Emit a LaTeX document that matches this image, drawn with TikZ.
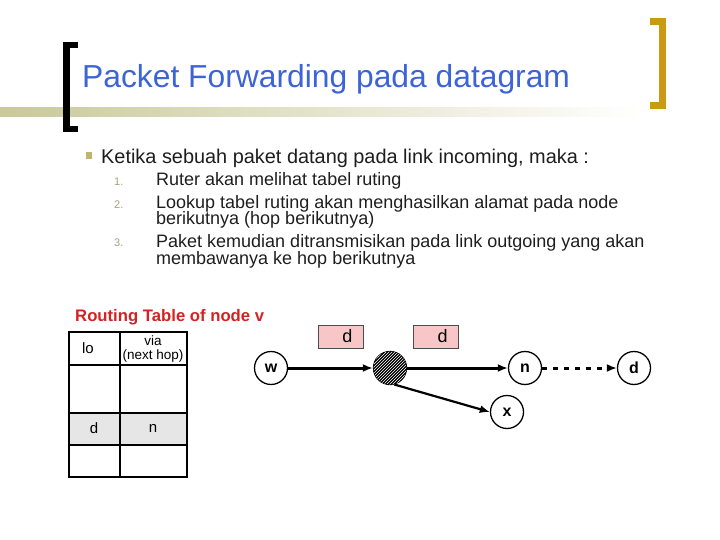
\documentclass[tikz,border=0pt]{standalone}
\usepackage{fontspec}
\setmainfont{Liberation Sans}
\usetikzlibrary{patterns, arrows.meta}
\definecolor{titleblue}{HTML}{3D64D6}
\definecolor{tablered}{HTML}{D42222}
\definecolor{barolive}{HTML}{C9C99B}
\definecolor{bracketgold}{HTML}{C99A12}
\definecolor{bulletolive}{HTML}{C2B46A}
\definecolor{numgray}{HTML}{A3A37A}
\definecolor{pktpink}{HTML}{F8C6C6}
\definecolor{rowgray}{HTML}{E6E6E6}
\definecolor{textdark}{HTML}{1E1E1E}

\begin{document}
\begin{tikzpicture}[x=1pt, y=-1pt,
    hop/.style={circle, draw, line width=1.3pt, minimum size=33pt, inner sep=0pt,
        font=\fontsize{16}{16}\selectfont\bfseries},
    pkt/.style={draw=black!70, fill=pktpink, line width=0.6pt, minimum width=45pt,
        minimum height=23pt, inner sep=0pt, font=\fontsize{18}{18}\selectfont},
    link/.style={line width=3pt, -{Latex[length=10pt, width=8pt]}},
    item/.style={anchor=base west, align=left, inner sep=0pt, text=textdark,
        font=\fontsize{18}{17}\selectfont},
    itemnum/.style={anchor=base west, inner sep=0pt, text=numgray,
        font=\fontsize{11}{11}\selectfont},
    cell/.style={inner sep=0pt, font=\fontsize{15}{15}\selectfont}]
    % Define dimensions
    \def\tabl{68.5}
    \def\tabm{120}
    \def\tabr{186.5}
    \def\hopy{368}
    \useasboundingbox (0,0) rectangle (720,540);
    % Title bar and brackets
    \shade[left color=barolive, middle color=barolive!75, right color=white] (0,108) rectangle (640,117);
    \fill[black] (63,42) rectangle (70,132);
    \fill[black] (63,42) rectangle (78,48);
    \fill[black] (63,126) rectangle (78,132);
    \fill[bracketgold] (659,18) rectangle (666,109);
    \fill[bracketgold] (650,18) rectangle (666,25);
    \fill[bracketgold] (650,102) rectangle (666,109);
    \node[anchor=base west, inner sep=0pt, text=titleblue,
        font=\fontsize{31.8}{31.8}\selectfont] (title) at (82,88) {Packet Forwarding pada datagram};
    % Bullet list
    \fill[bulletolive] (86,152) rectangle (92,159);
    \node[item, font=\fontsize{19.9}{19.9}\selectfont] (intro) at (101,164)
        {Ketika sebuah paket datang pada link incoming, maka :};
    \foreach \n/\y in {1/186, 2/208, 3/247}
        \node[itemnum] (num\n) at (114,\y) {\n.};
    \node[item] (step1) at (156,186) {Ruter akan melihat tabel ruting};
    \node[item] (step2) at (156,225) {Lookup tabel ruting akan menghasilkan alamat pada node\\berikutnya (hop berikutnya)};
    \node[item] (step3) at (156,264) {Paket kemudian ditransmisikan pada link outgoing yang akan\\membawanya ke hop berikutnya};
    % Routing table
    \node[anchor=base west, inner sep=0pt, text=tablered,
        font=\fontsize{16.7}{16.7}\selectfont\bfseries] (tabtitle) at (75,321) {Routing Table of node v};
    \fill[rowgray] (\tabl,413) rectangle (\tabr,445);
    \draw[line width=2pt] (\tabl,331.5) rectangle (\tabr,476.5);
    \draw[line width=2pt] (\tabm,331.5) -- (\tabm,476.5);
    \foreach \y in {364.5, 413, 445}
        \draw[line width=2pt] (\tabl,\y) -- (\tabr,\y);
    \node[cell] (dest) at (88,348) {lo};
    \node[cell, font=\fontsize{13.5}{13.5}\selectfont] (via) at (153,341) {via};
    \node[cell, font=\fontsize{13.5}{13.5}\selectfont] (nexthop) at (153,356) {(next hop)};
    \node[cell] (rowd) at (94,428) {d};
    \node[cell] (rown) at (153,428) {n};
    % Network
    \node[hop] (w) at (271,\hopy) {w};
    \node[hop, fill=black, postaction={pattern=north east lines, pattern color=white}] (v) at (390,\hopy) {};
    \node[hop] (n) at (525,\hopy) {n};
    \node[hop] (d) at (634,\hopy) {d};
    \node[hop] (x) at (507,412) {x};
    \node[pkt] (pkta) at (340.5,336.5) {\hspace{14pt}d};
    \node[pkt] (pktb) at (435.5,336.5) {\hspace{14pt}d};
    \draw[link] (w) -- (v);
    \draw[link] (v) -- (n);
    \draw[link, dash pattern=on 5pt off 6pt] (n) -- (d);
    \draw[line width=2.2pt, -{Latex[length=10pt, width=8pt]}] (v.-75) -- (x.west);
\end{tikzpicture}
\end{document}
